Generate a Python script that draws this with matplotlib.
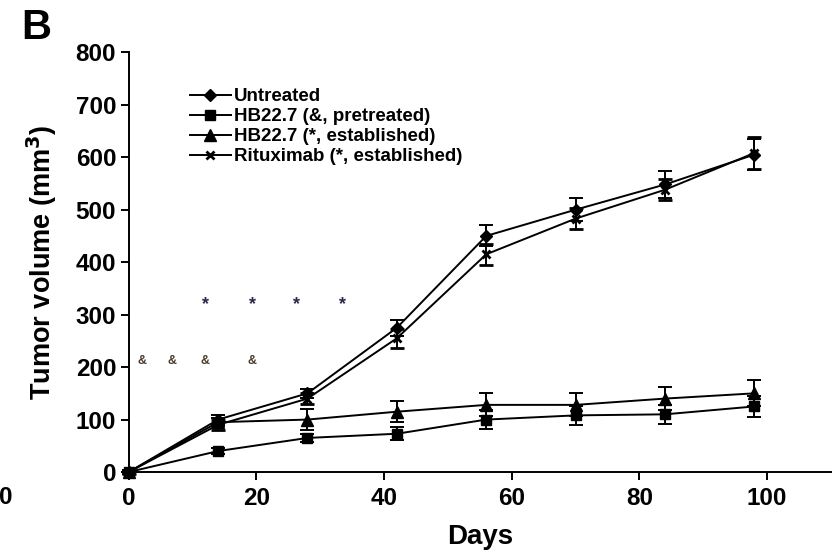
import matplotlib
matplotlib.use("Agg")
import matplotlib.pyplot as plt

plt.rcParams['font.family'] = ['Liberation Sans', 'DejaVu Sans']
plt.rcParams['font.weight'] = 'bold'

# data
days = [0, 14, 28, 42, 56, 70, 84, 98]
untreated = [0, 100, 150, 275, 450, 500, 548, 605]
untreated_err = [3, 8, 8, 15, 20, 22, 25, 30]
pretreated = [0, 40, 65, 73, 100, 108, 110, 125]
pretreated_err = [3, 5, 8, 12, 18, 18, 18, 20]
established = [0, 95, 100, 115, 128, 128, 140, 150]
established_err = [3, 8, 20, 20, 22, 22, 22, 25]
rituximab = [0, 90, 140, 255, 415, 483, 538, 608]
rituximab_err = [3, 10, 10, 18, 20, 20, 20, 30]

star_days = [12.1, 19.4, 26.2, 33.5]
star_y = 320
amp_days = [2.0, 6.7, 11.9, 19.3]
amp_y = 212

fig = plt.figure(figsize=(8.36, 5.56), dpi=100)
ax = fig.add_axes([0.154, 0.151, 0.840, 0.755])

common = dict(color='black', lw=1.4, capsize=5, elinewidth=1.4, capthick=1.4)
e1 = ax.errorbar(days, untreated, yerr=untreated_err, marker='D', ms=6, **common)
e2 = ax.errorbar(days, pretreated, yerr=pretreated_err, marker='s', ms=7, **common)
e3 = ax.errorbar(days, established, yerr=established_err, marker='^', ms=8, **common)
e4 = ax.errorbar(days, rituximab, yerr=rituximab_err, marker='x', ms=6, mew=2, **common)

for d in star_days:
    ax.text(d, star_y, '*', ha='center', va='center', fontsize=13, color='#2a2a4a')
for d in amp_days:
    ax.text(d, amp_y, '&', ha='center', va='center', fontsize=9, color='#4a3a2a')

ax.set_xlim(0, 110)
ax.set_ylim(0, 800)
ax.set_xticks([0, 20, 40, 60, 80, 100])
ax.set_yticks(range(0, 801, 100))
ax.spines['top'].set_visible(False)
ax.spines['right'].set_visible(False)
ax.spines['left'].set_linewidth(1.4)
ax.spines['bottom'].set_linewidth(1.4)
ax.tick_params(labelsize=17.5, width=1.4, length=6, pad=3)
ax.tick_params(axis='x', pad=5)
for lab in ax.get_xticklabels() + ax.get_yticklabels():
    lab.set_fontweight('bold')
ax.set_xlabel('Days', fontsize=20, fontweight='bold', labelpad=10)
ax.set_ylabel('Tumor volume (mm$^\\mathbf{3}$)', fontsize=19.5, fontweight='bold', labelpad=12)
for c in ax.get_children():
    try:
        c.set_clip_on(False)
    except Exception:
        pass

labels = ['Untreated', 'HB22.7 (&, pretreated)', 'HB22.7 (*, established)', 'Rituximab (*, established)']
handles = [e[0] for e in (e1, e2, e3, e4)]
leg = ax.legend(handles, labels, loc='upper left', bbox_to_anchor=(0.087, 0.914), frameon=False,
                prop={'size': 13.5, 'weight': 'bold'}, handlelength=2.2,
                labelspacing=0.15, handletextpad=0.15, borderaxespad=0, borderpad=0)

fig.text(0.043, 0.95, 'B', fontsize=30, fontweight='bold', ha='center', va='center')
fig.text(0.007, 0.106, '0', fontsize=17.5, fontweight='bold', ha='center', va='center')

fig.savefig('out.png', dpi=100)
